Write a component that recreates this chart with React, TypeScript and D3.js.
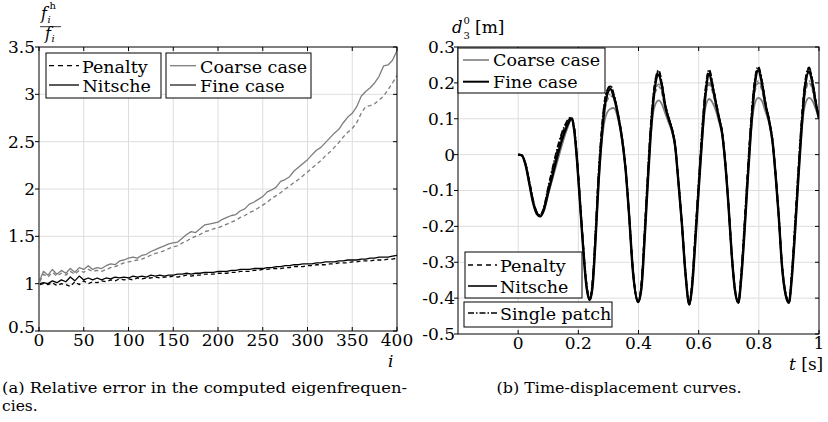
import React from 'react';
import * as d3 from 'd3';

const FONT = '"DejaVu Serif", serif';

// ---------- Left panel: eigenfrequency ratio ----------
const modeIndex = [1, 5, 10, 15, 20, 25, 30, 35, 40, 45, 50, 55, 60, 65, 70, 75, 80, 85, 90, 95,
  100, 105, 110, 115, 120, 125, 130, 135, 140, 145, 150, 155, 160, 165, 170, 175, 180, 185, 190, 195,
  200, 205, 210, 215, 220, 225, 230, 235, 240, 245, 250, 255, 260, 265, 270, 275, 280, 285, 290, 295,
  300, 305, 310, 315, 320, 325, 330, 335, 340, 345, 350, 355, 360, 365, 370, 375, 380, 385, 390, 395, 400];

const coarseNitscheRatio = [1.04, 1.13, 1.09, 1.15, 1.10, 1.14, 1.11, 1.16, 1.12, 1.17,
  1.15, 1.19, 1.15, 1.17, 1.16, 1.19, 1.21, 1.20, 1.24, 1.25,
  1.27, 1.28, 1.27, 1.30, 1.31, 1.34, 1.36, 1.38, 1.40, 1.42,
  1.43, 1.44, 1.48, 1.52, 1.55, 1.54, 1.58, 1.62, 1.63, 1.64,
  1.65, 1.68, 1.70, 1.72, 1.73, 1.77, 1.79, 1.84, 1.86, 1.89,
  1.92, 1.97, 1.99, 2.02, 2.08, 2.10, 2.13, 2.19, 2.23, 2.27,
  2.31, 2.36, 2.41, 2.44, 2.49, 2.54, 2.59, 2.63, 2.70, 2.76,
  2.80, 2.87, 2.98, 3.03, 3.07, 3.12, 3.19, 3.30, 3.31, 3.36,
  3.46];

const coarsePenaltyRatio = [1.02, 1.10, 1.07, 1.12, 1.08, 1.11, 1.09, 1.13, 1.10, 1.14,
  1.12, 1.15, 1.13, 1.14, 1.13, 1.15, 1.17, 1.18, 1.20, 1.22,
  1.23, 1.24, 1.25, 1.26, 1.28, 1.30, 1.32, 1.33, 1.35, 1.37,
  1.39, 1.40, 1.43, 1.45, 1.48, 1.50, 1.52, 1.55, 1.56, 1.58,
  1.59, 1.61, 1.63, 1.65, 1.67, 1.70, 1.72, 1.75, 1.77, 1.80,
  1.83, 1.86, 1.90, 1.93, 1.96, 2.00, 2.03, 2.07, 2.10, 2.14,
  2.18, 2.22, 2.26, 2.30, 2.35, 2.39, 2.44, 2.49, 2.55, 2.60,
  2.64, 2.70, 2.80, 2.87, 2.88, 2.90, 2.94, 2.98, 3.05, 3.12,
  3.20];

const fineNitscheRatio = [1.00, 1.01, 1.00, 1.03, 1.01, 1.04, 1.02, 1.07, 1.03, 1.08,
  1.04, 1.06, 1.04, 1.06, 1.04, 1.06, 1.05, 1.07, 1.06, 1.07,
  1.06, 1.08, 1.07, 1.08, 1.07, 1.09, 1.08, 1.09, 1.08, 1.09,
  1.09, 1.10, 1.10, 1.11, 1.10, 1.11, 1.11, 1.12, 1.12, 1.12,
  1.13, 1.13, 1.13, 1.14, 1.14, 1.15, 1.15, 1.15, 1.16, 1.16,
  1.16, 1.17, 1.17, 1.18, 1.18, 1.19, 1.19, 1.20, 1.20, 1.21,
  1.21, 1.21, 1.22, 1.22, 1.23, 1.23, 1.23, 1.24, 1.24, 1.25,
  1.25, 1.25, 1.26, 1.26, 1.27, 1.27, 1.28, 1.28, 1.28, 1.29,
  1.30];

const finePenaltyRatio = [0.99, 1.00, 0.99, 1.01, 0.98, 1.00, 0.99, 0.97, 1.02, 0.99,
  1.03, 1.00, 1.02, 1.01, 1.03, 1.02, 1.04, 1.03, 1.05, 1.04,
  1.05, 1.04, 1.06, 1.05, 1.06, 1.06, 1.07, 1.06, 1.07, 1.07,
  1.08, 1.07, 1.08, 1.09, 1.08, 1.09, 1.09, 1.10, 1.10, 1.10,
  1.11, 1.11, 1.11, 1.12, 1.12, 1.13, 1.13, 1.13, 1.14, 1.14,
  1.15, 1.15, 1.16, 1.16, 1.16, 1.17, 1.17, 1.18, 1.18, 1.18,
  1.19, 1.19, 1.20, 1.20, 1.20, 1.21, 1.21, 1.22, 1.22, 1.22,
  1.23, 1.23, 1.24, 1.24, 1.24, 1.25, 1.25, 1.25, 1.26, 1.26,
  1.27];

const leftXTicks = [0, 50, 100, 150, 200, 250, 300, 350, 400];
const leftXTickLabels = ['0', '50', '100', '150', '200', '250', '300', '350', '400'];
const leftYTicks = [0.5, 1, 1.5, 2, 2.5, 3, 3.5];
const leftYTickLabels = ['0.5', '1', '1.5', '2', '2.5', '3', '3.5'];

// ---------- Right panel: time-displacement ----------
const timeKnots = [0, 0.012, 0.025, 0.038, 0.05, 0.062, 0.073, 0.085, 0.1, 0.115, 0.13, 0.145, 0.16, 0.177,
  0.186, 0.196, 0.206, 0.216, 0.226, 0.238,
  0.247, 0.257, 0.267, 0.279, 0.292, 0.307,
  0.318, 0.332, 0.346, 0.357, 0.368, 0.382, 0.399,
  0.41, 0.42, 0.43, 0.44, 0.452, 0.467,
  0.478, 0.489, 0.5, 0.511, 0.522, 0.533, 0.544, 0.556, 0.569,
  0.578, 0.589, 0.6, 0.611, 0.622, 0.635,
  0.646, 0.658, 0.668, 0.678, 0.688, 0.699, 0.71, 0.721, 0.732,
  0.741, 0.752, 0.763, 0.774, 0.786, 0.798,
  0.81, 0.822, 0.835, 0.846, 0.856, 0.866, 0.877, 0.889, 0.9,
  0.909, 0.92, 0.931, 0.942, 0.954, 0.967,
  0.978, 0.99, 1.0];

const fineNitscheDisp = [0, -0.002, -0.03, -0.085, -0.135, -0.165, -0.172, -0.155, -0.105, -0.055, -0.005, 0.04, 0.075, 0.1,
  0.07, -0.02, -0.14, -0.26, -0.36, -0.405,
  -0.37, -0.24, -0.08, 0.06, 0.155, 0.183,
  0.16, 0.11, 0.04, -0.04, -0.16, -0.33, -0.411,
  -0.37, -0.24, -0.09, 0.05, 0.17, 0.223,
  0.19, 0.135, 0.1, 0.07, 0.023, -0.08, -0.19, -0.33, -0.418,
  -0.37, -0.24, -0.097, 0.04, 0.16, 0.225,
  0.19, 0.14, 0.1, 0.06, -0.02, -0.14, -0.28, -0.38, -0.413,
  -0.35, -0.22, -0.07, 0.07, 0.19, 0.235,
  0.2, 0.14, 0.09, 0.033, -0.06, -0.17, -0.31, -0.39, -0.413,
  -0.35, -0.22, -0.07, 0.07, 0.19, 0.232,
  0.2, 0.14, 0.1];

const finePenaltyDisp = [0, -0.002, -0.028, -0.08, -0.13, -0.162, -0.17, -0.15, -0.095, -0.04, 0.01, 0.055, 0.085, 0.103,
  0.075, -0.015, -0.135, -0.255, -0.355, -0.403,
  -0.36, -0.225, -0.065, 0.075, 0.165, 0.19,
  0.165, 0.112, 0.042, -0.038, -0.158, -0.328, -0.41,
  -0.36, -0.225, -0.075, 0.065, 0.18, 0.232,
  0.195, 0.138, 0.102, 0.072, 0.025, -0.078, -0.188, -0.328, -0.417,
  -0.36, -0.225, -0.085, 0.055, 0.172, 0.233,
  0.195, 0.143, 0.102, 0.062, -0.018, -0.138, -0.278, -0.378, -0.412,
  -0.34, -0.205, -0.055, 0.085, 0.2, 0.242,
  0.205, 0.143, 0.092, 0.035, -0.058, -0.168, -0.308, -0.388, -0.412,
  -0.34, -0.205, -0.055, 0.085, 0.2, 0.24,
  0.205, 0.143, 0.102];

const fineSingleDisp = [0, -0.002, -0.027, -0.078, -0.128, -0.16, -0.169, -0.148, -0.09, -0.035, 0.018, 0.06, 0.09, 0.104,
  0.078, -0.012, -0.13, -0.25, -0.35, -0.402,
  -0.355, -0.215, -0.055, 0.085, 0.17, 0.192,
  0.168, 0.114, 0.044, -0.036, -0.156, -0.326, -0.41,
  -0.355, -0.215, -0.065, 0.075, 0.185, 0.235,
  0.198, 0.14, 0.104, 0.074, 0.026, -0.076, -0.186, -0.326, -0.416,
  -0.355, -0.215, -0.075, 0.065, 0.178, 0.237,
  0.198, 0.145, 0.104, 0.064, -0.016, -0.136, -0.276, -0.376, -0.411,
  -0.335, -0.195, -0.045, 0.095, 0.205, 0.245,
  0.208, 0.145, 0.094, 0.037, -0.056, -0.166, -0.306, -0.386, -0.411,
  -0.335, -0.195, -0.045, 0.095, 0.205, 0.243,
  0.208, 0.145, 0.104];

const coarseNitscheDisp = [0, -0.002, -0.03, -0.085, -0.135, -0.165, -0.172, -0.157, -0.11, -0.065, -0.02, 0.025, 0.065, 0.097,
  0.068, -0.022, -0.14, -0.26, -0.36, -0.405,
  -0.37, -0.24, -0.085, 0.045, 0.11, 0.128,
  0.13, 0.1, 0.035, -0.042, -0.162, -0.332, -0.411,
  -0.37, -0.24, -0.09, 0.045, 0.13, 0.151,
  0.14, 0.115, 0.09, 0.065, 0.02, -0.082, -0.192, -0.332, -0.418,
  -0.37, -0.24, -0.097, 0.035, 0.13, 0.155,
  0.145, 0.12, 0.09, 0.055, -0.022, -0.142, -0.282, -0.382, -0.413,
  -0.35, -0.22, -0.07, 0.065, 0.14, 0.158,
  0.15, 0.12, 0.085, 0.03, -0.062, -0.172, -0.312, -0.392, -0.413,
  -0.35, -0.22, -0.07, 0.065, 0.14, 0.158,
  0.15, 0.125, 0.1];

const coarsePenaltyDisp = [0, -0.002, -0.029, -0.083, -0.133, -0.163, -0.171, -0.153, -0.1, -0.05, 0.0, 0.045, 0.08, 0.1,
  0.07, -0.02, -0.138, -0.258, -0.358, -0.404,
  -0.365, -0.232, -0.075, 0.06, 0.14, 0.163,
  0.16, 0.108, 0.038, -0.04, -0.16, -0.33, -0.41,
  -0.365, -0.232, -0.082, 0.058, 0.16, 0.19,
  0.17, 0.125, 0.095, 0.068, 0.022, -0.08, -0.19, -0.33, -0.417,
  -0.365, -0.232, -0.09, 0.048, 0.16, 0.195,
  0.175, 0.13, 0.095, 0.058, -0.02, -0.14, -0.28, -0.38, -0.412,
  -0.345, -0.212, -0.062, 0.075, 0.17, 0.2,
  0.18, 0.13, 0.088, 0.032, -0.06, -0.17, -0.31, -0.39, -0.412,
  -0.345, -0.212, -0.062, 0.075, 0.17, 0.2,
  0.18, 0.132, 0.1];

const coarseSingleDisp = [0, -0.002, -0.028, -0.08, -0.13, -0.161, -0.17, -0.15, -0.095, -0.042, 0.008, 0.052, 0.084, 0.102,
  0.073, -0.017, -0.135, -0.255, -0.355, -0.403,
  -0.36, -0.225, -0.068, 0.068, 0.148, 0.168,
  0.163, 0.11, 0.04, -0.038, -0.158, -0.328, -0.41,
  -0.36, -0.225, -0.076, 0.064, 0.166, 0.197,
  0.175, 0.128, 0.097, 0.07, 0.024, -0.078, -0.188, -0.328, -0.416,
  -0.36, -0.225, -0.084, 0.054, 0.166, 0.2,
  0.18, 0.133, 0.097, 0.06, -0.018, -0.138, -0.278, -0.378, -0.411,
  -0.34, -0.205, -0.056, 0.081, 0.176, 0.205,
  0.185, 0.133, 0.09, 0.034, -0.058, -0.168, -0.308, -0.388, -0.411,
  -0.34, -0.205, -0.056, 0.081, 0.176, 0.205,
  0.185, 0.135, 0.102];

const rightXTicks = [0, 0.2, 0.4, 0.6, 0.8, 1];
const rightXTickLabels = ['0', '0.2', '0.4', '0.6', '0.8', '1'];
const rightYTicks = [-0.5, -0.4, -0.3, -0.2, -0.1, 0, 0.1, 0.2, 0.3];
const rightYTickLabels = ['-0.5', '-0.4', '-0.3', '-0.2', '-0.1', '0', '0.1', '0.2', '0.3'];

const GRAY = '#7d7d7d';
const GRID = '#dedede';
const DASH = '4,3';
const DASHDOT = '6,2,1.5,2';

export default function App() {
  const L = { x0: 39, x1: 397, y0: 47, y1: 331 };
  const lx = d3.scaleLinear().domain([0, 400]).range([L.x0, L.x1]);
  const ly = d3.scaleLinear().domain([0.5, 3.5]).range([L.y1, L.y0]);
  const R = { x0: 458, x1: 819, y0: 47, y1: 334 };
  const rx = d3.scaleLinear().domain([-0.2, 1]).range([R.x0, R.x1]);
  const ry = d3.scaleLinear().domain([-0.5, 0.3]).range([R.y1, R.y0]);

  const lineL = (vals: number[]) =>
    d3.line<number>().x((_, k) => lx(modeIndex[k])).y((v) => ly(v))(vals) || '';
  const lineR = (vals: number[]) =>
    d3.line<number>().x((_, k) => rx(timeKnots[k])).y((v) => ry(v)).curve(d3.curveMonotoneX)(vals) || '';

  const tickFont = 17;
  const legFont = 17.5;
  const capFont = 15.5;

  return (
    <svg width={828} height={422} style={{ position: 'absolute', left: 0, top: 0 }} fontFamily={FONT}>
      <rect x={0} y={0} width={828} height={422} fill="white" />
      <defs>
        <clipPath id="clipL"><rect x={L.x0} y={L.y0} width={L.x1 - L.x0} height={L.y1 - L.y0} /></clipPath>
        <clipPath id="clipR"><rect x={R.x0} y={R.y0} width={R.x1 - R.x0} height={R.y1 - R.y0} /></clipPath>
      </defs>

      {/* ================= LEFT PANEL ================= */}
      <g>
        {leftXTicks.slice(1, -1).map((t) => (
          <line key={'lgx' + t} x1={lx(t)} x2={lx(t)} y1={L.y0} y2={L.y1} stroke={GRID} strokeWidth={1} />
        ))}
        {leftYTicks.slice(1, -1).map((t) => (
          <line key={'lgy' + t} x1={L.x0} x2={L.x1} y1={ly(t)} y2={ly(t)} stroke={GRID} strokeWidth={1} />
        ))}
        <g clipPath="url(#clipL)" fill="none" strokeLinejoin="round">
          <path d={lineL(coarsePenaltyRatio)} stroke={GRAY} strokeWidth={1.3} strokeDasharray={DASH} />
          <path d={lineL(coarseNitscheRatio)} stroke={GRAY} strokeWidth={1.3} />
          <path d={lineL(finePenaltyRatio)} stroke="#000" strokeWidth={1.3} strokeDasharray={DASH} />
          <path d={lineL(fineNitscheRatio)} stroke="#000" strokeWidth={1.3} />
        </g>
        <rect x={L.x0} y={L.y0} width={L.x1 - L.x0} height={L.y1 - L.y0} fill="none" stroke="#000" strokeWidth={1} />
        {leftXTicks.map((t, k) => (
          <g key={'ltx' + t}>
            <line x1={lx(t)} x2={lx(t)} y1={L.y0} y2={L.y0 + 4} stroke="#000" />
            <line x1={lx(t)} x2={lx(t)} y1={L.y1} y2={L.y1 - 4} stroke="#000" />
            <text x={lx(t)} y={L.y1 + 15} textAnchor="middle" fontSize={tickFont}>{leftXTickLabels[k]}</text>
          </g>
        ))}
        {leftYTicks.map((t, k) => (
          <g key={'lty' + t}>
            <line x1={L.x0 - 4} x2={L.x0} y1={ly(t)} y2={ly(t)} stroke="#000" />
            <line x1={L.x1 - 4} x2={L.x1} y1={ly(t)} y2={ly(t)} stroke="#000" />
            <text x={L.x0 - 4} y={ly(t) + (k === 0 ? -4 : 0)} dy="0.35em" textAnchor="end" fontSize={tickFont}>
              {leftYTickLabels[k]}
            </text>
          </g>
        ))}
        <text x={388} y={367} fontSize={17} fontStyle="italic">i</text>
        <g fontStyle="italic">
          <text x={41} y={19} fontSize={16}>f</text>
          <text x={47.5} y={22.5} fontSize={10}>i</text>
          <text x={49.5} y={9} fontSize={10} fontStyle="normal">h</text>
          <line x1={40} x2={61} y1={26.7} y2={26.7} stroke="#000" strokeWidth={0.8} />
          <text x={45} y={39} fontSize={16}>f</text>
          <text x={51.5} y={42} fontSize={10}>i</text>
        </g>
        <rect x={46} y={53} width={115} height={45} fill="white" stroke="#000" strokeWidth={1} />
        <line x1={49} x2={79} y1={65.7} y2={65.7} stroke="#000" strokeWidth={1.3} strokeDasharray="5,4" />
        <text x={82} y={72.5} fontSize={legFont}>Penalty</text>
        <line x1={49} x2={79} y1={85} y2={85} stroke="#000" strokeWidth={1.3} />
        <text x={82.5} y={91.5} fontSize={legFont}>Nitsche</text>
        <rect x={166} y={53} width={145} height={45} fill="white" stroke="#000" strokeWidth={1} />
        <line x1={170} x2={196} y1={65.7} y2={65.7} stroke={GRAY} strokeWidth={1.3} />
        <text x={200} y={72.5} fontSize={legFont}>Coarse case</text>
        <line x1={170} x2={196} y1={85} y2={85} stroke="#222" strokeWidth={1.3} />
        <text x={200} y={91.5} fontSize={legFont}>Fine case</text>
        <text x={2} y={393} fontSize={capFont} textLength={405} lengthAdjust="spacingAndGlyphs">(a)  Relative error in the computed eigenfrequen-</text>
        <text x={2} y={411} fontSize={capFont}>cies.</text>
      </g>

      {/* ================= RIGHT PANEL ================= */}
      <g>
        {rightXTicks.slice(0, -1).map((t) => (
          <line key={'rgx' + t} x1={rx(t)} x2={rx(t)} y1={R.y0} y2={R.y1} stroke={GRID} strokeWidth={1} />
        ))}
        {rightYTicks.slice(1, -1).map((t) => (
          <line key={'rgy' + t} x1={R.x0} x2={R.x1} y1={ry(t)} y2={ry(t)} stroke={GRID} strokeWidth={1} />
        ))}
        <g clipPath="url(#clipR)" fill="none" strokeLinejoin="round">
          <path d={lineR(coarsePenaltyDisp)} stroke={GRAY} strokeWidth={1.6} strokeDasharray={DASH} />
          <path d={lineR(coarseSingleDisp)} stroke={GRAY} strokeWidth={1.6} strokeDasharray={DASHDOT} />
          <path d={lineR(coarseNitscheDisp)} stroke={GRAY} strokeWidth={1.8} />
          <path d={lineR(finePenaltyDisp)} stroke="#000" strokeWidth={1.8} strokeDasharray={DASH} />
          <path d={lineR(fineSingleDisp)} stroke="#000" strokeWidth={1.8} strokeDasharray={DASHDOT} />
          <path d={lineR(fineNitscheDisp)} stroke="#000" strokeWidth={2.4} />
        </g>
        <rect x={R.x0} y={R.y0} width={R.x1 - R.x0} height={R.y1 - R.y0} fill="none" stroke="#000" strokeWidth={1} />
        {rightXTicks.map((t, k) => (
          <g key={'rtx' + t}>
            <line x1={rx(t)} x2={rx(t)} y1={R.y0} y2={R.y0 + 4} stroke="#000" />
            <line x1={rx(t)} x2={rx(t)} y1={R.y1} y2={R.y1 - 4} stroke="#000" />
            <text x={rx(t)} y={R.y1 + 15} textAnchor="middle" fontSize={tickFont}>{rightXTickLabels[k]}</text>
          </g>
        ))}
        {rightYTicks.map((t, k) => (
          <g key={'rty' + t}>
            <line x1={R.x0 - 4} x2={R.x0} y1={ry(t)} y2={ry(t)} stroke="#000" />
            <line x1={R.x1 - 4} x2={R.x1} y1={ry(t)} y2={ry(t)} stroke="#000" />
            <text x={R.x0 - 3} y={ry(t)} dy="0.35em" textAnchor="end" fontSize={tickFont}>{rightYTickLabels[k]}</text>
          </g>
        ))}
        <text x={789} y={369.5} fontSize={17}>
          <tspan fontStyle="italic">t</tspan> [s]
        </text>
        <text x={452} y={33} fontSize={16.5} fontStyle="italic">d</text>
        <text x={463.5} y={24} fontSize={10}>0</text>
        <text x={463.5} y={39} fontSize={10}>3</text>
        <text x={475} y={33} fontSize={17}>[m]</text>
        <rect x={458} y={48} width={147} height={45} fill="white" stroke="#000" strokeWidth={1} />
        <line x1={463} x2={489} y1={60} y2={60} stroke={GRAY} strokeWidth={1.6} />
        <text x={493} y={66} fontSize={legFont}>Coarse case</text>
        <line x1={463} x2={489} y1={81.7} y2={81.7} stroke="#000" strokeWidth={2} />
        <text x={493} y={88} fontSize={legFont}>Fine case</text>

        <rect x={465} y={252} width={117} height={46} fill="white" stroke="#000" strokeWidth={1} />
        <line x1={468} x2={497} y1={265} y2={265} stroke="#000" strokeWidth={1.4} strokeDasharray="5,4" />
        <text x={500} y={271.5} fontSize={legFont}>Penalty</text>
        <line x1={468} x2={497} y1={286} y2={286} stroke="#000" strokeWidth={1.6} />
        <text x={500} y={292.5} fontSize={legFont}>Nitsche</text>

        <rect x={464} y={302} width={148} height={25} fill="white" stroke="#000" strokeWidth={1} />
        <line x1={468} x2={497} y1={313} y2={313} stroke="#000" strokeWidth={1.4} strokeDasharray={DASHDOT} />
        <text x={500} y={319.5} fontSize={legFont}>Single patch</text>
        <text x={619} y={393} fontSize={capFont} textAnchor="middle" textLength={245} lengthAdjust="spacingAndGlyphs">(b)  Time-displacement curves.</text>
      </g>
    </svg>
  );
}
